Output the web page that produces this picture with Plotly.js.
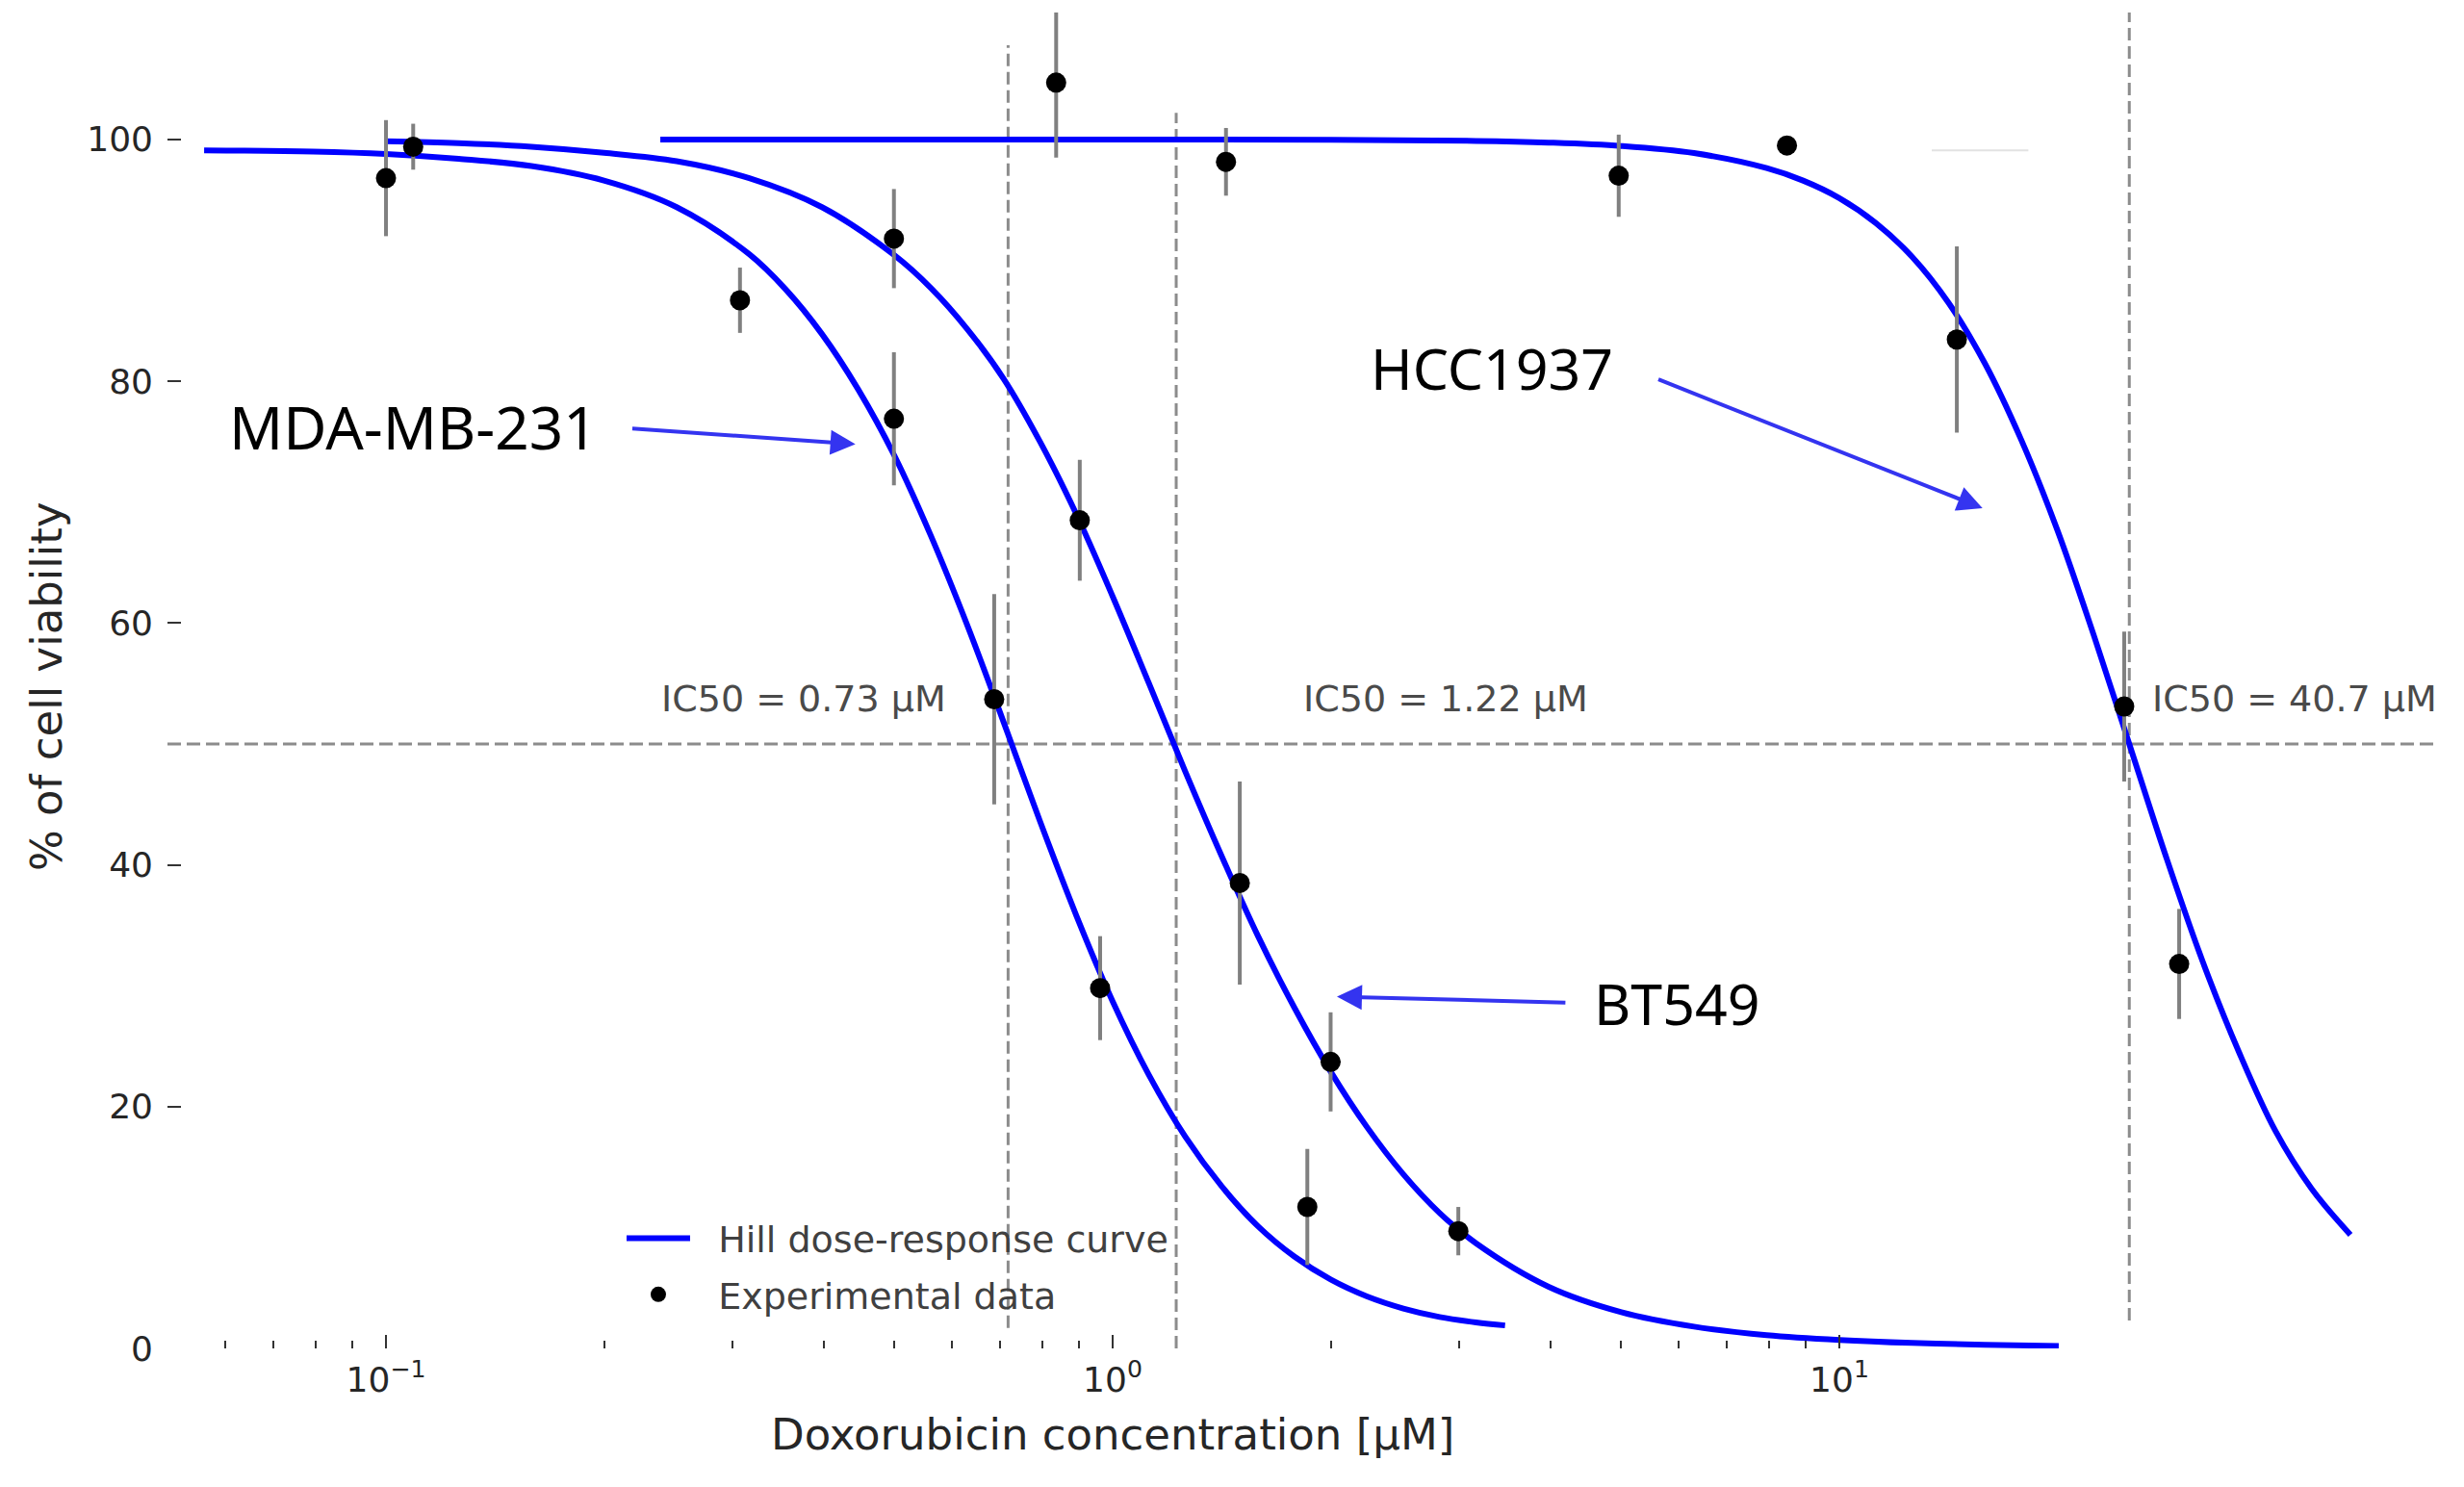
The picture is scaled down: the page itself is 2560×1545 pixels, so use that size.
<!DOCTYPE html>
<html>
<head>
<meta charset="utf-8">
<script src="https://cdn.plot.ly/plotly-3.0.1.min.js"></script>
<style>
html,body{margin:0;padding:0;background:#ffffff;}
#chart{width:2560px;height:1545px;}
</style>
</head>
<body>
<div id="chart"></div>
<script>
// ---------- Experimental data (concentration in µM, % viability, error) ----------
const mdaConc = [0.1, 0.307, 0.50, 0.687, 0.961, 1.853];
const mdaViab = [96.8, 86.7, 76.9, 53.7, 29.8, 11.7];
const mdaErr  = [4.8, 2.7, 5.5, 8.7, 4.3, 4.8];

const btConc = [0.109, 0.50, 0.901, 1.496, 1.995, 2.99];
const btViab = [99.4, 91.8, 68.5, 38.5, 23.7, 9.7];
const btErr  = [1.9, 4.1, 5.0, 8.4, 4.1, 2.0];

const hccConc = [0.836, 1.432, 4.97, 8.47, 14.51, 24.66, 29.35];
const hccViab = [104.7, 98.15, 97.0, 99.5, 83.45, 53.1, 31.8];
const hccErr  = [6.2, 2.8, 3.4, 0.5, 7.7, 6.2, 4.55];

// ---------- Fitted Hill curves ----------
const mdaCurveConc = [0.0562, 0.0794, 0.1, 0.1259, 0.1585, 0.1995, 0.2512, 0.3162, 0.3548, 0.3981, 0.4467, 0.5012, 0.5623, 0.631, 0.7079, 0.7943, 0.8913, 1.0, 1.122, 1.259, 1.413, 1.585, 1.778, 1.995, 2.239, 2.512, 2.818, 3.162, 3.467];
const mdaCurveViab = [99.1, 99.0, 98.8, 98.4, 97.8, 96.6, 94.4, 90.5, 87.6, 83.9, 79.3, 73.8, 67.2, 59.8, 51.8, 43.6, 35.8, 28.7, 22.6, 17.5, 13.4, 10.1, 7.6, 5.7, 4.3, 3.3, 2.6, 2.15, 1.9];

const btCurveConc = [0.1, 0.1259, 0.1585, 0.1995, 0.2512, 0.3162, 0.3981, 0.5012, 0.5623, 0.631, 0.7079, 0.7943, 0.8913, 1.0, 1.122, 1.259, 1.413, 1.585, 1.778, 1.995, 2.239, 2.512, 2.818, 3.162, 3.981, 5.012, 6.31, 7.943, 10.0, 12.59, 15.85, 20.04];
const btCurveViab = [99.85, 99.7, 99.4, 98.9, 98.2, 96.8, 94.4, 90.4, 87.7, 84.3, 80.2, 75.0, 69.0, 62.2, 55.0, 47.7, 40.7, 34.1, 28.2, 22.9, 18.3, 14.4, 11.2, 8.7, 5.1, 3.0, 1.8, 1.1, 0.7, 0.45, 0.3, 0.2];

const hccCurveConc = [0.2385, 1.0, 1.995, 3.162, 3.981, 5.012, 6.31, 7.943, 8.913, 10.0, 11.22, 12.59, 14.13, 15.85, 17.78, 19.95, 22.39, 25.12, 28.18, 31.62, 35.48, 39.81, 44.67, 50.5];
const hccCurveViab = [100.0, 100.0, 99.97, 99.88, 99.74, 99.46, 98.87, 97.63, 96.6, 95.15, 93.1, 90.3, 86.5, 81.5, 75.2, 67.7, 59.0, 49.8, 40.6, 32.0, 24.5, 18.0, 13.2, 9.4];

// ---------- IC50 reference lines ----------
const ic50Labels   = ["IC50 = 0.73 µM", "IC50 = 1.22 µM", "IC50 = 40.7 µM"];
const ic50LinePos  = [0.718, 1.223, 25.06];
const ic50LineTop  = [107.8, 102.2, 110.5];
const ic50LineBot  = [1.7, 0.0, 2.3];
const halfViability = 50;

// faint stray segment visible in the figure
const strayConc = [13.4, 18.2];
const strayViab = [99.1, 99.1];

// ---------- Axis ticks / titles ----------
const xTickVals = [0.1, 1, 10];
const xTickText = ["10<sup>−1</sup>", "10<sup>0</sup>", "10<sup>1</sup>"];
const xMinorTickVals = [0.06, 0.07, 0.08, 0.09, 0.2, 0.3, 0.4, 0.5, 0.6, 0.7, 0.8, 0.9, 2, 3, 4, 5, 6, 7, 8, 9];
const yTickVals = [0, 20, 40, 60, 80, 100];
const xTitle = 'Doxorubicin concentration [µM]';
const yTitle = '% of cell viability';

const cellLines = ["MDA-MB-231", "BT549", "HCC1937"];

const BLUE = '#0000ff';
const ARROW = '#3434f0';
const DASH_GRAY = '#8c8c8c';

const traces = [];

// IC50 vertical dashed lines
ic50LinePos.forEach((p, i) => {
  traces.push({
    x: [p, p], y: [ic50LineBot[i], ic50LineTop[i]],
    mode: 'lines', type: 'scatter',
    line: {color: DASH_GRAY, width: 3, dash: '13px,6px'},
    showlegend: false, hoverinfo: 'skip'
  });
});

traces.push({
  x: strayConc, y: strayViab, mode: 'lines', type: 'scatter',
  line: {color: '#e2e2e2', width: 2}, showlegend: false, hoverinfo: 'skip'
});

// Hill curves
const curveSets = [
  [mdaCurveConc, mdaCurveViab],
  [btCurveConc, btCurveViab],
  [hccCurveConc, hccCurveViab]
];
curveSets.forEach((c, i) => {
  traces.push({
    x: c[0], y: c[1], mode: 'lines', type: 'scatter',
    name: '\u00a0\u00a0Hill dose-response curve',
    legendgroup: 'curve', showlegend: i === 0, legendrank: 1,
    line: {color: BLUE, width: 6, shape: 'spline', smoothing: 1},
    hovertext: cellLines[i]
  });
});

// Experimental data
const dataSets = [
  [mdaConc, mdaViab, mdaErr],
  [btConc, btViab, btErr],
  [hccConc, hccViab, hccErr]
];
dataSets.forEach((d, i) => {
  traces.push({
    x: d[0], y: d[1], mode: 'markers', type: 'scatter',
    name: '\u00a0\u00a0Experimental data',
    legendgroup: 'data', showlegend: i === 0, legendrank: 2,
    marker: {color: '#000000', size: 21},
    error_y: {type: 'data', array: d[2], visible: true, color: '#808080', thickness: 4, width: 0},
    hovertext: cellLines[i]
  });
});

const icFont = {family: 'DejaVu Sans', size: 38, color: '#4a4a4a'};
const labelFont = {family: 'Noto Sans', size: 59, color: '#000000'};
const tickFont = {family: 'DejaVu Sans', size: 36, color: '#262626'};
const titleFont = {family: 'DejaVu Sans', size: 45, color: '#262626'};

const annotations = [
  {x: -0.4258, y: 53.7, text: ic50Labels[0]},
  {x: 0.4577, y: 53.7, text: ic50Labels[1]},
  {x: 1.6265, y: 53.7, text: ic50Labels[2]}
].map(a => Object.assign(a, {xref: 'x', yref: 'y', showarrow: false, font: icFont, xanchor: 'center', yanchor: 'middle'}));

[
  {x: -0.9629, y: 76.3, text: cellLines[0], size: 62},
  {x: 0.776, y: 28.6, text: cellLines[1], size: 59},
  {x: 0.5219, y: 81.1, text: cellLines[2], size: 59}
].forEach(a => {
  const s = a.size; delete a.size;
  annotations.push(Object.assign(a, {xref: 'x', yref: 'y', showarrow: false,
    font: Object.assign({}, labelFont, {size: s}), xanchor: 'center', yanchor: 'middle'}));
});

// arrows: tip (x,y) and tail (ax,ay)
[
  {x: -0.354, y: 74.8, ax: -0.663, ay: 76.1},
  {x: 0.3086, y: 29.1, ax: 0.625, ay: 28.6},
  {x: 1.197, y: 69.5, ax: 0.749, ay: 80.2}
].forEach(a => annotations.push(Object.assign(a, {
  xref: 'x', yref: 'y', axref: 'x', ayref: 'y', text: '', showarrow: true,
  arrowhead: 2, arrowsize: 1.3, arrowwidth: 4, arrowcolor: ARROW, standoff: 0, startstandoff: 0
})));

// axis titles (placed like the reference: x title centred under 10^0)
annotations.push({
  x: 0, xref: 'x', y: -0.0648, yref: 'paper', text: xTitle, showarrow: false,
  xanchor: 'center', yanchor: 'middle', font: titleFont
});
annotations.push({
  x: -0.0531, xref: 'paper', y: 0.4957, yref: 'paper', text: yTitle, showarrow: false,
  textangle: -90, xanchor: 'center', yanchor: 'middle', font: titleFont
});

const layout = {
  width: 2560, height: 1545,
  margin: {l: 174, r: 32, t: 13, b: 144, pad: 0},
  paper_bgcolor: '#ffffff', plot_bgcolor: '#ffffff',
  showlegend: true,
  legend: {
    x: 0.2005, y: 0.105, xanchor: 'left', yanchor: 'top',
    bgcolor: 'rgba(0,0,0,0)', borderwidth: 0,
    font: {family: 'DejaVu Sans', size: 38, color: '#404040'},
    itemwidth: 66, tracegroupgap: 6
  },
  xaxis: {
    type: 'log', range: [-1.3007, 1.8172],
    tickmode: 'array', tickvals: xTickVals, ticktext: xTickText,
    ticks: 'inside', ticklen: 14, tickwidth: 2, tickcolor: '#333333',
    minor: {tickmode: 'array', tickvals: xMinorTickVals, ticks: 'inside', ticklen: 8, tickwidth: 2, tickcolor: '#333333', showgrid: false},
    showgrid: false, zeroline: false, showline: false,
    tickfont: tickFont, ticklabelstandoff: 8,
    automargin: false
  },
  yaxis: {
    range: [0, 110.5],
    tickmode: 'array', tickvals: yTickVals,
    ticks: 'inside', ticklen: 14, tickwidth: 2, tickcolor: '#333333',
    showgrid: false, zeroline: false, showline: false,
    tickfont: tickFont, ticklabelstandoff: 14,
    automargin: false
  },
  shapes: [{
    type: 'line', xref: 'paper', yref: 'y', x0: 0, x1: 1, y0: halfViability, y1: halfViability,
    line: {color: DASH_GRAY, width: 3, dash: '14px,6px'}, layer: 'below'
  }],
  annotations: annotations
};

Plotly.newPlot('chart', traces, layout, {displayModeBar: false, staticPlot: true});
</script>
</body>
</html>
